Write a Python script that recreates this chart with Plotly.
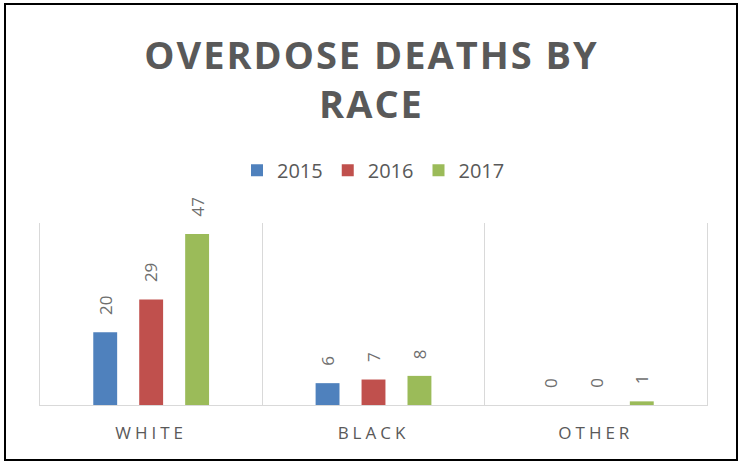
import plotly.graph_objects as go

categories = ["WHITE", "BLACK", "OTHER"]
years = ["2015", "2016", "2017"]
deaths_2015 = [20, 6, 0]
deaths_2016 = [29, 7, 0]
deaths_2017 = [47, 8, 1]
colors = ["#4f81bd", "#c0504d", "#9bbb59"]

series = [deaths_2015, deaths_2016, deaths_2017]
BARGAP = 0.38
slot = (1 - BARGAP) / len(series)

fig = go.Figure()
annotations = []
for j, (name, vals, col) in enumerate(zip(years, series, colors)):
    fig.add_trace(go.Bar(
        x=categories, y=vals, name=name,
        marker=dict(color=col, line=dict(width=0)),
    ))
    for i, v in enumerate(vals):
        annotations.append(dict(
            x=i + (j - (len(series) - 1) / 2) * slot, y=v, xref="x", yref="y",
            text=str(v), showarrow=False, textangle=-90,
            xanchor="center", yanchor="bottom", yshift=15,
            font=dict(family="Open Sans", size=17, color="#6e6e6e"),
        ))

fig.update_layout(
    width=743, height=464,
    margin=dict(l=40, r=36, t=223, b=59),
    paper_bgcolor="white", plot_bgcolor="white",
    barmode="group", bargap=BARGAP, bargroupgap=0.48,
    title=dict(text="OVERDOSE DEATHS BY<br>RACE", x=0.5, xanchor="center",
               y=1 - 69 / 464, yanchor="middle", yref="container",
               font=dict(family="Open Sans", size=38, color="#595959", weight="bold")),
    legend=dict(orientation="h", x=0.5, xanchor="center", y=1.29, yanchor="middle",
                font=dict(family="Open Sans", size=20, color="#595959"),
                itemwidth=30, traceorder="normal"),
    showlegend=True,
    xaxis=dict(tickson="boundaries", showgrid=True, gridcolor="#d9d9d9", gridwidth=1,
               showline=True, linecolor="#d9d9d9", linewidth=1, ticks="",
               tickfont=dict(family="Open Sans", size=17, color="#595959"),
               ticklabelstandoff=13),
    yaxis=dict(range=[0, 50], showticklabels=False, ticks="", showgrid=False, zeroline=False,
               showline=True, mirror=True, linecolor="#d9d9d9", linewidth=1),
    annotations=annotations,
    shapes=[dict(type="rect", xref="paper", yref="paper",
                 x0=(5 - 40) / 667, x1=(737 - 40) / 667, y0=(405 - 460) / 182, y1=(405 - 4) / 182,
                 line=dict(color="black", width=2))],
)

post = """
document.body.style.margin = '0';
var gd = document.getElementById('{plot_id}');
function sp(){
  gd.querySelectorAll('.xtick text').forEach(function(t){ t.style.letterSpacing='4px'; });
  gd.querySelectorAll('.gtitle').forEach(function(t){ t.style.letterSpacing='2px'; });
}
sp();
gd.on('plotly_afterplot', sp);
"""
fig.write_html("out.html", post_script=post, config={"displayModeBar": False})
